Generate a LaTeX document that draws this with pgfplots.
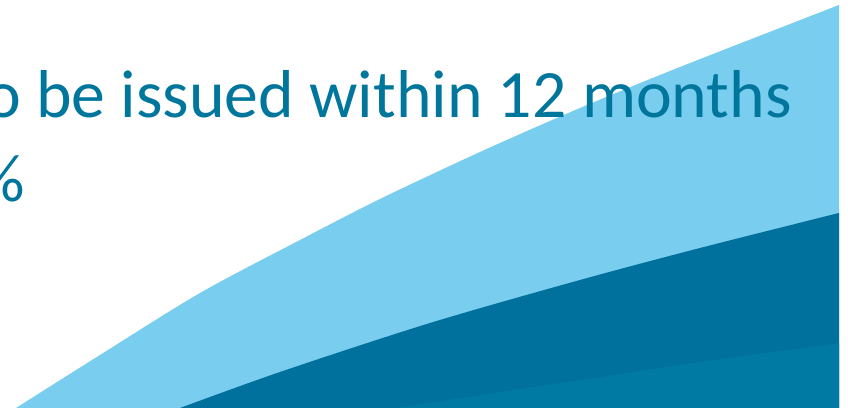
\documentclass[border=0pt]{standalone}
\usepackage{fontspec}
\setmainfont{Carlito}
\usepackage{pgfplots}
\pgfplotsset{compat=1.18}
\definecolor{lightb}{HTML}{79CDEF}
\definecolor{darkb}{HTML}{00709C}
\definecolor{tealb}{HTML}{0079A3}
\definecolor{txt}{HTML}{00769C}
\begin{document}
\begin{tikzpicture}
\begin{scope}
\clip (0,0) rectangle (848bp,408bp);
\begin{axis}[
  at={(0,0)}, anchor=south west,
  width=848bp, height=408bp, scale only axis,
  hide axis,
  xmin=0, xmax=848, ymin=0, ymax=408,
  clip=false,
]
% light blue area (outer)
\addplot[fill=lightb, draw=none, smooth] coordinates {
  (16,0) (100,53) (200,115) (300,168) (380,209) (480,256) (580,300) (680,341) (839,403)
} \closedcycle;
% dark blue area (middle)
\addplot[fill=darkb, draw=none, smooth] coordinates {
  (180,0) (280,36) (430,85) (580,128) (700,160) (839,195)
} \closedcycle;
% teal area (inner)
\addplot[fill=tealb, draw=none, smooth] coordinates {
  (395,0) (580,28) (700,46) (839,65)
} \closedcycle;
\node[anchor=base east, inner sep=0pt, text=txt, font=\fontsize{68}{80}\selectfont] at (axis cs:792,290) {to be issued within 12 months};
\node[anchor=base east, inner sep=0pt, text=txt, font=\fontsize{68}{80}\selectfont] at (axis cs:25,206) {\%};
\end{axis}
\end{scope}
\pgfresetboundingbox
\useasboundingbox (0,0) rectangle (848bp,408bp);
\end{tikzpicture}
\end{document}
